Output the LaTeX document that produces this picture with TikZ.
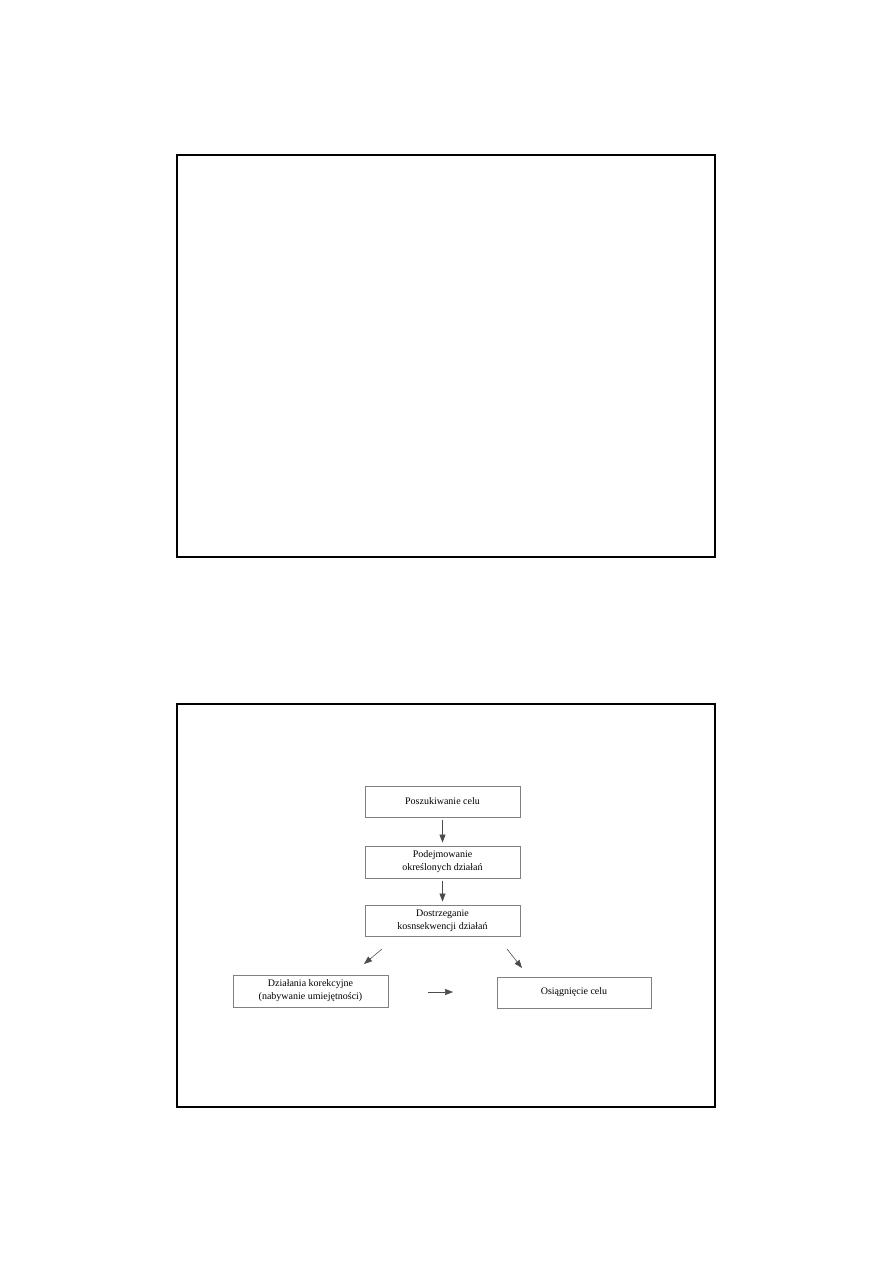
\documentclass[tikz,border=0pt]{standalone}
\usepackage{fontspec}
\setmainfont{Liberation Serif}
\usetikzlibrary{arrows.meta}
\begin{document}
\begin{tikzpicture}[x=1pt,y=-1pt,
  frame/.style={draw=black,line width=2pt},
  stepbox/.style={draw=black!50,line width=0.8pt,minimum width=155pt,minimum height=31pt,inner sep=0pt,align=center,font=\fontsize{10pt}{13pt}\selectfont},
  conn/.style={draw=black!70,line width=0.6pt,-{Triangle[length=8pt,width=6pt]}}]
\useasboundingbox (0,0) rectangle (893,1263);
\draw[frame] (177,155) rectangle (715,557);
\draw[frame] (177,704) rectangle (715,1107);
\node[stepbox] (b1) at (442.5,801.5) {Poszukiwanie celu};
\node[stepbox,minimum height=32pt] (b2) at (442.5,862) {Podejmowanie\\określonych działań};
\node[stepbox] (b3) at (442.5,920.5) {Dostrzeganie\\kosnsekwencji działań};
\node[stepbox,minimum height=32pt] (b4) at (310.5,991) {Działania korekcyjne\\(nabywanie umiejętności)};
\node[stepbox,minimum width=154pt] (b5) at (574,992.5) {Osiągnięcie celu};
\coordinate (l1) at (382,949);
\coordinate (l2) at (364,964);
\coordinate (r1) at (507,949);
\coordinate (r2) at (522,968);
\coordinate (h1) at (428,992);
\coordinate (h2) at (453,992);
\draw[conn] ([yshift=-3pt]b1.south) -- ([yshift=3pt]b2.north);
\draw[conn] ([yshift=-3pt]b2.south) -- ([yshift=3pt]b3.north);
\draw[conn] (l1) -- (l2);
\draw[conn] (r1) -- (r2);
\draw[conn] (h1) -- (h2);
\end{tikzpicture}
\end{document}
